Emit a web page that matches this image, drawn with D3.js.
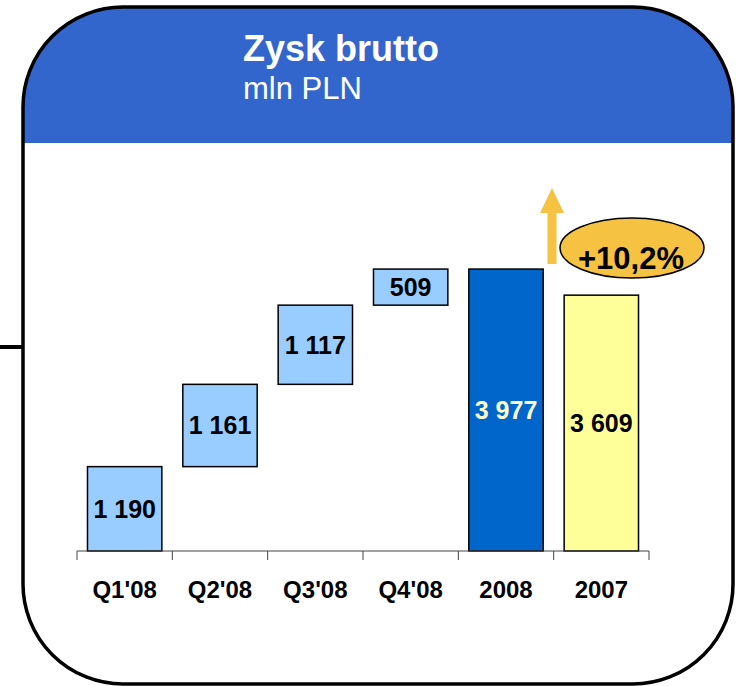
<!DOCTYPE html>
<html>
<head>
<meta charset="utf-8">
<script src="https://cdn.jsdelivr.net/npm/d3@7"></script>
<style>
  body { margin: 0; background: #fff; }
  svg { display: block; font-family: Arial, "Liberation Sans", sans-serif; }
</style>
</head>
<body>
<svg width="736" height="686"></svg>
<script>
// chart data
var categories = ["Q1'08", "Q2'08", "Q3'08", "Q4'08", "2008", "2007"];
var values = [1190, 1161, 1117, 509, 3977, 3609];
var labels = ["1 190", "1 161", "1 117", "509", "3 977", "3 609"];
var kinds = ["step", "step", "step", "step", "total", "total"];
var growthLabel = "+10,2%";

var svg = d3.select("svg");

var frame = { x: 23, y: 7, w: 710, h: 677, r: 100 };

// frame + blue header
svg.append("clipPath").attr("id", "frameClip")
    .append("rect")
    .attr("x", frame.x).attr("y", frame.y)
    .attr("width", frame.w).attr("height", frame.h)
    .attr("rx", frame.r).attr("ry", frame.r);

svg.append("rect")
    .attr("x", frame.x).attr("y", frame.y)
    .attr("width", frame.w).attr("height", frame.h)
    .attr("rx", frame.r).attr("ry", frame.r)
    .attr("fill", "#fff");

svg.append("rect")
    .attr("clip-path", "url(#frameClip)")
    .attr("x", frame.x).attr("y", frame.y)
    .attr("width", frame.w).attr("height", 143 - frame.y)
    .attr("fill", "#3366CC");

svg.append("rect")
    .attr("x", frame.x).attr("y", frame.y)
    .attr("width", frame.w).attr("height", frame.h)
    .attr("rx", frame.r).attr("ry", frame.r)
    .attr("fill", "none")
    .attr("stroke", "#000")
    .attr("stroke-width", 3.5);

// small connector line on the left
svg.append("line")
    .attr("x1", 0).attr("x2", frame.x)
    .attr("y1", 347).attr("y2", 347)
    .attr("stroke", "#000").attr("stroke-width", 4);

// titles
svg.append("text")
    .attr("x", 243).attr("y", 61)
    .attr("fill", "#fff")
    .attr("font-size", 36).attr("font-weight", "bold")
    .text("Zysk brutto");

svg.append("text")
    .attr("x", 243).attr("y", 99)
    .attr("fill", "#fff")
    .attr("font-size", 31)
    .text("mln PLN");

// scales
var x = d3.scaleBand()
    .domain(categories)
    .range([77, 649])
    .paddingInner(0.22)
    .paddingOuter(0.11);

var y = d3.scaleLinear()
    .domain([0, 4500])
    .range([551, 232]);

// waterfall starts
var data = [];
var run = 0;
categories.forEach(function (c, i) {
    var start = kinds[i] == "step" ? run : 0;
    if (kinds[i] == "step") run += values[i];
    data.push({ cat: c, start: start, end: start + values[i], label: labels[i], i: i });
});

var fills = ["#99CCFF", "#99CCFF", "#99CCFF", "#99CCFF", "#0066CC", "#FFFF99"];
var textFills = ["#000", "#000", "#000", "#000", "#FFFFCC", "#000"];

var bars = svg.append("g");

bars.selectAll("rect")
    .data(data)
    .enter().append("rect")
    .attr("x", function (d) { return x(d.cat); })
    .attr("width", x.bandwidth())
    .attr("y", function (d) { return y(d.end); })
    .attr("height", function (d) { return y(d.start) - y(d.end); })
    .attr("fill", function (d) { return fills[d.i]; })
    .attr("stroke", "#000")
    .attr("stroke-width", 1.5);

bars.selectAll("text")
    .data(data)
    .enter().append("text")
    .attr("x", function (d) { return x(d.cat) + x.bandwidth() / 2; })
    .attr("y", function (d) { return (y(d.start) + y(d.end)) / 2 + 9; })
    .attr("text-anchor", "middle")
    .attr("font-size", 25).attr("font-weight", "bold")
    .attr("fill", function (d) { return textFills[d.i]; })
    .text(function (d) { return d.label; });

// axis: line with ticks at band boundaries
var axis = svg.append("g");
var step = x.step();
var x0 = x.range()[0];
axis.append("line")
    .attr("x1", x0).attr("x2", x.range()[1])
    .attr("y1", y(0)).attr("y2", y(0))
    .attr("stroke", "#444").attr("stroke-width", 1);

axis.selectAll("line.tick")
    .data(d3.range(categories.length + 1))
    .enter().append("line")
    .attr("class", "tick")
    .attr("x1", function (k) { return x0 + k * step; })
    .attr("x2", function (k) { return x0 + k * step; })
    .attr("y1", y(0)).attr("y2", y(0) + 9)
    .attr("stroke", "#444").attr("stroke-width", 1);

axis.selectAll("text")
    .data(categories)
    .enter().append("text")
    .attr("x", function (d) { return x(d) + x.bandwidth() / 2; })
    .attr("y", 598)
    .attr("text-anchor", "middle")
    .attr("font-size", 24).attr("font-weight", "bold")
    .attr("fill", "#000")
    .text(function (d) { return d; });

// growth arrow and badge
var ax = 552;
var arrow = d3.path();
arrow.moveTo(ax, 188);
arrow.lineTo(ax + 12, 213);
arrow.lineTo(ax + 4.5, 213);
arrow.lineTo(ax + 4.5, 264);
arrow.lineTo(ax - 4.5, 264);
arrow.lineTo(ax - 4.5, 213);
arrow.lineTo(ax - 12, 213);
arrow.closePath();
svg.append("path")
    .attr("d", arrow.toString())
    .attr("fill", "#F5C242");

svg.append("ellipse")
    .attr("cx", 632).attr("cy", 248)
    .attr("rx", 72).attr("ry", 30)
    .attr("fill", "#F5C242")
    .attr("stroke", "#000").attr("stroke-width", 1.5);

svg.append("text")
    .attr("x", 631).attr("y", 269)
    .attr("text-anchor", "middle")
    .attr("font-size", 31).attr("font-weight", "bold")
    .attr("fill", "#000")
    .text(growthLabel);
</script>
</body>
</html>
